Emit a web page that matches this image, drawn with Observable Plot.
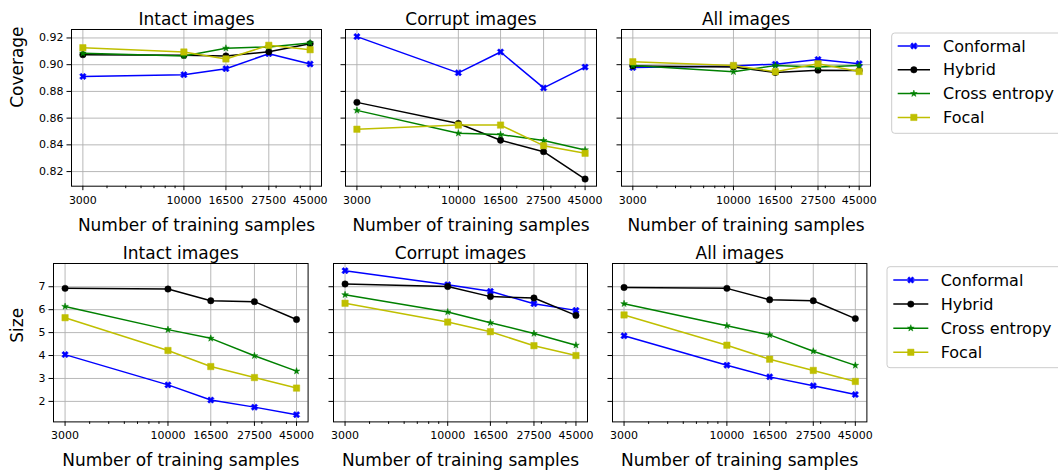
<!DOCTYPE html>
<html><head><meta charset="utf-8">
<script src="https://cdn.jsdelivr.net/npm/d3@7"></script>
<script src="https://cdn.jsdelivr.net/npm/@observablehq/plot@0.6"></script>
<style>
html,body{margin:0;padding:0;background:#fff;}
#chart{position:relative;width:1058px;height:472px;overflow:hidden;font-family:"DejaVu Sans",sans-serif;background:#fff;}
#chart svg{position:absolute;overflow:visible;}
</style></head><body><div id="chart"></div>
<script>
// ---------- data ----------
const samples = [3000, 10000, 16500, 27500, 45000];
const minorTicks = [4000, 5000, 6000, 7000, 8000, 9000, 20000, 30000, 40000];
const methods = ["Conformal", "Hybrid", "Cross entropy", "Focal"];
const coverageTicks = [0.82, 0.84, 0.86, 0.88, 0.90, 0.92];
const sizeTicks = [2, 3, 4, 5, 6, 7];
const titles = ["Intact images", "Corrupt images", "All images"];

// rows: Conformal, Hybrid, Cross entropy, Focal
const coverageIntact = [
  [0.8912, 0.8925, 0.8970, 0.9082, 0.9005],
  [0.9075, 0.9070, 0.9065, 0.9097, 0.9157],
  [0.9085, 0.9065, 0.9123, 0.9133, 0.9163],
  [0.9127, 0.9095, 0.9043, 0.9145, 0.9112]
];
const coverageCorrupt = [
  [0.9210, 0.8939, 0.9095, 0.8826, 0.8982],
  [0.8718, 0.8560, 0.8435, 0.8349, 0.8144],
  [0.8658, 0.8487, 0.8477, 0.8432, 0.8362],
  [0.8517, 0.8548, 0.8548, 0.8394, 0.8337]
];
const coverageAll = [
  [0.8978, 0.8991, 0.9004, 0.9039, 0.9007],
  [0.8991, 0.8982, 0.8942, 0.8959, 0.8957],
  [0.8993, 0.8947, 0.8993, 0.8982, 0.8993],
  [0.9022, 0.8994, 0.8947, 0.9007, 0.8949]
];
const sizeIntact = [
  [4.04, 2.72, 2.06, 1.75, 1.42],
  [6.93, 6.90, 6.39, 6.35, 5.57],
  [6.14, 5.13, 4.75, 3.99, 3.32],
  [5.65, 4.22, 3.52, 3.04, 2.58]
];
const sizeCorrupt = [
  [7.70, 7.09, 6.80, 6.26, 5.97],
  [7.12, 7.01, 6.57, 6.51, 5.75],
  [6.65, 5.90, 5.43, 4.96, 4.45],
  [6.28, 5.46, 5.04, 4.43, 4.00]
];
const sizeAll = [
  [4.86, 3.58, 3.07, 2.68, 2.30],
  [6.97, 6.93, 6.43, 6.39, 5.61],
  [6.26, 5.30, 4.90, 4.19, 3.57],
  [5.77, 4.45, 3.84, 3.35, 2.87]
];

// ---------- style ----------
const colors = ["#0000ff", "#000000", "#008000", "#bfbf00"];
const symbols = ["cross", "circle", "star", "square"];
const d3symbols = [d3.symbolCross, d3.symbolCircle, d3.symbolStar, d3.symbolSquare];
const rotations = [45, 0, 0, 0];
const radii = [2.9, 3.2, 2.1, 3.6];
const gridColor = "#b0b0b0";
const FONT = "DejaVu Sans";

// frames [x0, x1, y0, y1] in page pixels
const frames = [
  [71, 321, 29.3, 186], [345, 596, 29.3, 186], [621, 870, 29.3, 186],
  [52.7, 307.3, 263.3, 421.7], [332.7, 586.7, 263.3, 421.7], [612.3, 866.7, 263.3, 421.7]
];

const rowsData = [[coverageIntact, coverageCorrupt, coverageAll], [sizeIntact, sizeCorrupt, sizeAll]];
const rowTicks = [coverageTicks, sizeTicks];
const rowLabels = ["Coverage", "Size"];
const rowFormats = [d3.format(".2f"), d => String(d)];

function padDomain(lo, hi) { const m = 0.05 * (hi - lo); return [lo - m, hi + m]; }
const lx = padDomain(Math.log10(d3.min(samples)), Math.log10(d3.max(samples)));
const xDomain = [10 ** lx[0], 10 ** lx[1]];

const chart = document.getElementById("chart");
const ML = 70, MR = 20, MT = 40, MB = 60;

rowsData.forEach((row, r) => {
  const all = row.flat(2);
  const yDomain = padDomain(d3.min(all), d3.max(all));
  row.forEach((values, c) => {
    const [x0, x1, y0, y1] = frames[r * 3 + c];
    const fw = x1 - x0, fh = y1 - y0;
    const marks = [
      Plot.gridX(samples, {stroke: gridColor, strokeOpacity: 1, strokeWidth: 0.9}),
      Plot.gridY(rowTicks[r], {stroke: gridColor, strokeOpacity: 1, strokeWidth: 0.9})
    ];
    methods.forEach((m, k) => {
      const d = samples.map((s, j) => ({x: s, y: values[k][j], method: m}));
      marks.push(Plot.line(d, {x: "x", y: "y", stroke: colors[k], strokeWidth: 1.5}));
      marks.push(Plot.dot(d, {x: "x", y: "y", symbol: symbols[k], r: radii[k], rotate: rotations[k],
        fill: colors[k], stroke: colors[k], strokeWidth: 0.5}));
    });
    marks.push(
      Plot.frame({stroke: "#000", strokeWidth: 1}),
      Plot.axisX(samples, {tickSize: 4.5, tickFormat: () => "", label: null}),
      Plot.axisX(minorTicks, {tickSize: 2.5, tickFormat: () => "", label: null}),
      Plot.text(samples, {x: d => d, text: d => String(d), frameAnchor: "bottom", lineAnchor: "top",
        dy: 9.5, fontSize: 11}),
      Plot.axisY(rowTicks[r], {tickSize: 4.5, tickPadding: 3.5, fontSize: 11,
        tickFormat: c === 0 ? rowFormats[r] : () => "", label: null}),
      Plot.text([titles[c]], {text: d => d, frameAnchor: "top", lineAnchor: "bottom", dy: -4.5, fontSize: 17}),
      Plot.text(["Number of training samples"], {text: d => d, frameAnchor: "bottom", lineAnchor: "bottom", dy: 44.5, fontSize: 17})
    );
    if (c === 0) {
      marks.push(Plot.text([rowLabels[r]], {text: d => d, frameAnchor: "left", lineAnchor: "middle",
        rotate: -90, dx: 17 - x0, fontSize: 17}));
    }
    const svg = Plot.plot({
      width: fw + ML + MR, height: fh + MT + MB,
      marginLeft: ML, marginRight: MR, marginTop: MT, marginBottom: MB,
      x: {type: "log", domain: xDomain},
      y: {domain: yDomain},
      style: {fontFamily: FONT, background: "transparent", overflow: "visible", color: "#000",
        position: "absolute", left: (x0 - ML) + "px", top: (y0 - MT) + "px", maxWidth: "none"},
      marks
    });
    chart.appendChild(svg);
  });
});

// ---------- legends ----------
function legend(box, lineX0, lineX1, textX, rowY0, rowStep) {
  const svg = d3.create("svg").attr("width", 1058).attr("height", 472)
    .style("left", "0px").style("top", "0px");
  svg.append("rect").attr("x", box[0]).attr("y", box[1]).attr("width", box[2]).attr("height", box[3])
    .attr("rx", 3).attr("fill", "rgba(255,255,255,0.8)").attr("stroke", "#cccccc").attr("stroke-width", 1);
  methods.forEach((m, k) => {
    const y = rowY0 + k * rowStep;
    svg.append("line").attr("x1", lineX0).attr("x2", lineX1).attr("y1", y).attr("y2", y)
      .attr("stroke", colors[k]).attr("stroke-width", 1.5);
    svg.append("path").attr("d", d3.symbol(d3symbols[k], Math.PI * radii[k] ** 2)())
      .attr("transform", `translate(${(lineX0 + lineX1) / 2},${y}) rotate(${rotations[k]})`)
      .attr("fill", colors[k]).attr("stroke", colors[k]).attr("stroke-width", 0.5);
    svg.append("text").attr("x", textX).attr("y", y).attr("dy", "0.35em")
      .attr("font-family", FONT).attr("font-size", 16).attr("fill", "#000").text(m);
  });
  chart.appendChild(svg.node());
}
legend([891.7, 33, 200, 100.3], 897.7, 930, 943, 46, 23.8);
legend([887, 266.7, 200, 101], 893.3, 928.3, 940.7, 280, 24.1);
</script></body></html>
